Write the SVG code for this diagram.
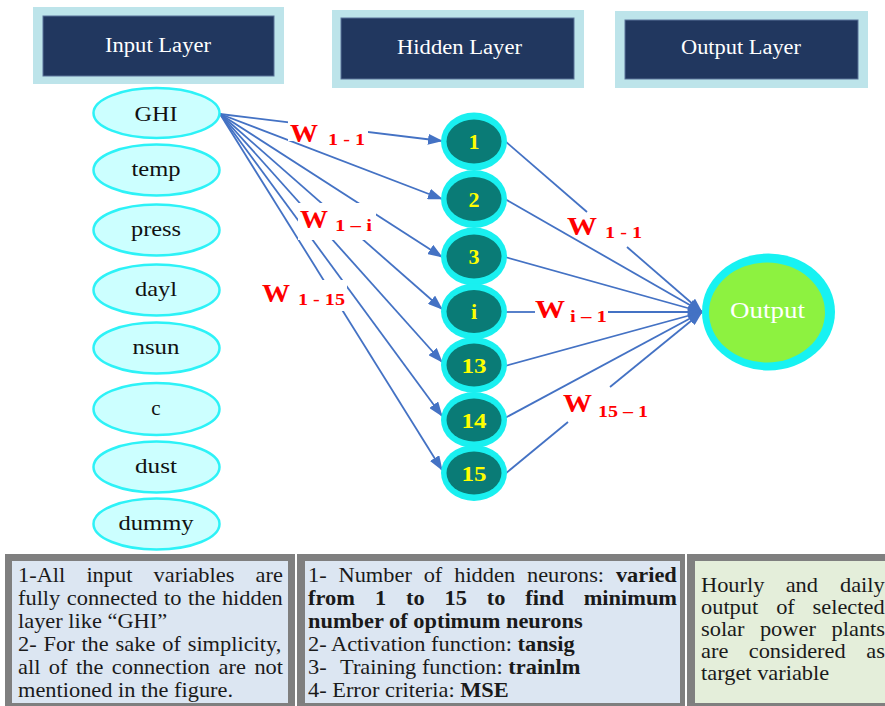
<svg xmlns="http://www.w3.org/2000/svg" width="885" height="706" viewBox="0 0 885 706">
<style>
.hdrO{fill:#BDE4EA}
.hdrI{fill:#21375F;stroke:#5A7399;stroke-width:1}
.ser{font-family:'Liberation Serif','Times New Roman',Tinos,'DejaVu Serif',serif}
.hdrT{font-size:20px;fill:#FFFFFF;text-anchor:middle}
.inN{fill:#CCFFFF;stroke:#2DF2F7;stroke-width:2.5}
.inT{font-size:21px;fill:#111111;text-anchor:middle}
.hidO{fill:#19F0F0}
.hidI{fill:#0A7B76}
.hidT{font-size:22px;font-weight:bold;fill:#FFFF00;text-anchor:middle}
.edge{stroke:#4472C4;stroke-width:1.8;fill:none}
.wW{font-size:25px;font-weight:bold;fill:#FF0000}
.wS{font-size:17px;font-weight:bold;fill:#FF0000}
.gap{fill:#FFFFFF}
.body{font-size:20px;fill:#1A1A1A}
.b{font-weight:bold}
</style>
<defs>
<marker id="arr" markerWidth="15" markerHeight="11" refX="14" refY="5.5" orient="auto" markerUnits="userSpaceOnUse">
<path d="M0,0 L15,5.5 L0,11 z" fill="#4472C4"/>
</marker>
</defs>

<!-- Layer headers -->
<g id="hdr-input">
<rect class="hdrO" x="33" y="7" width="251" height="77"/>
<rect class="hdrI" x="43" y="16" width="231" height="60"/>
<text class="ser hdrT" x="158" y="52" textLength="106" lengthAdjust="spacingAndGlyphs">Input Layer</text>
</g>
<g id="hdr-hidden">
<rect class="hdrO" x="332" y="10" width="252" height="78"/>
<rect class="hdrI" x="341" y="18" width="233" height="61"/>
<text class="ser hdrT" x="459.5" y="54" textLength="125" lengthAdjust="spacingAndGlyphs">Hidden Layer</text>
</g>
<g id="hdr-output">
<rect class="hdrO" x="615" y="11" width="253" height="77"/>
<rect class="hdrI" x="625" y="20" width="233" height="59"/>
<text class="ser hdrT" x="741" y="54" textLength="120" lengthAdjust="spacingAndGlyphs">Output Layer</text>
</g>

<!-- Connectors -->
<g id="connectors">
<g id="in-edges">
<line class="edge" x1="220" y1="114" x2="442" y2="141" marker-end="url(#arr)"/>
<line class="edge" x1="220" y1="114" x2="442" y2="199" marker-end="url(#arr)"/>
<line class="edge" x1="220" y1="114" x2="442" y2="257" marker-end="url(#arr)"/>
<line class="edge" x1="220" y1="114" x2="442" y2="309" marker-end="url(#arr)"/>
<line class="edge" x1="220" y1="114" x2="442" y2="362" marker-end="url(#arr)"/>
<line class="edge" x1="220" y1="114" x2="442" y2="416" marker-end="url(#arr)"/>
<line class="edge" x1="220" y1="114" x2="442" y2="470" marker-end="url(#arr)"/>
</g>
<g id="out-edges">
<line class="edge" x1="505" y1="141" x2="587" y2="212"/>
<line class="edge" x1="627" y1="247" x2="702" y2="312" marker-end="url(#arr)"/>
<line class="edge" x1="505" y1="199" x2="702" y2="312" marker-end="url(#arr)"/>
<line class="edge" x1="505" y1="257" x2="702" y2="312" marker-end="url(#arr)"/>
<line class="edge" x1="505" y1="312" x2="535" y2="312"/>
<line class="edge" x1="608" y1="312" x2="702" y2="312" marker-end="url(#arr)"/>
<line class="edge" x1="505" y1="366" x2="702" y2="312" marker-end="url(#arr)"/>
<line class="edge" x1="505" y1="418" x2="702" y2="312" marker-end="url(#arr)"/>
<line class="edge" x1="505" y1="474" x2="568" y2="422"/>
<line class="edge" x1="610" y1="387" x2="702" y2="312" marker-end="url(#arr)"/>
</g>
</g>

<!-- Weight labels -->
<g id="lbl-w1-1-in">
<rect class="gap" x="288" y="120" width="32" height="21"/>
<rect class="gap" x="320" y="121" width="48" height="25"/>
<text class="ser wW" x="290" y="142" textLength="28" lengthAdjust="spacingAndGlyphs">W</text>
<text class="ser wS" x="328" y="145" textLength="37" lengthAdjust="spacingAndGlyphs">1 - 1</text>
</g>
<g id="lbl-w1-i">
<rect class="gap" x="298" y="203" width="78" height="37"/>
<text class="ser wW" x="300" y="228" textLength="28" lengthAdjust="spacingAndGlyphs">W</text>
<text class="ser wS" x="335" y="231" textLength="37" lengthAdjust="spacingAndGlyphs">1 – i</text>
</g>
<g id="lbl-w1-15">
<rect class="gap" x="259" y="279" width="35" height="26"/>
<rect class="gap" x="294" y="280" width="53" height="31"/>
<text class="ser wW" x="262" y="302" textLength="28" lengthAdjust="spacingAndGlyphs">W</text>
<text class="ser wS" x="298" y="305" textLength="47" lengthAdjust="spacingAndGlyphs">1 - 15</text>
</g>
<g id="lbl-w1-1-out">
<text class="ser wW" x="567" y="235" textLength="30" lengthAdjust="spacingAndGlyphs">W</text>
<text class="ser wS" x="605" y="238" textLength="37" lengthAdjust="spacingAndGlyphs">1 - 1</text>
</g>
<g id="lbl-wi-1">
<text class="ser wW" x="535" y="318" textLength="30" lengthAdjust="spacingAndGlyphs">W</text>
<text class="ser wS" x="570" y="322" textLength="37" lengthAdjust="spacingAndGlyphs">i – 1</text>
</g>
<g id="lbl-w15-1">
<text class="ser wW" x="563" y="412" textLength="29" lengthAdjust="spacingAndGlyphs">W</text>
<text class="ser wS" x="598" y="417" textLength="50" lengthAdjust="spacingAndGlyphs">15 – 1</text>
</g>

<!-- Input nodes -->
<g id="in-ghi"><ellipse class="inN" cx="156.5" cy="113" rx="63" ry="25"/><text class="ser inT" x="156" y="121" textLength="43" lengthAdjust="spacingAndGlyphs">GHI</text></g>
<g id="in-temp"><ellipse class="inN" cx="156.5" cy="170" rx="63" ry="25.5"/><text class="ser inT" x="156" y="176" textLength="49" lengthAdjust="spacingAndGlyphs">temp</text></g>
<g id="in-press"><ellipse class="inN" cx="156.5" cy="230" rx="63" ry="25.5"/><text class="ser inT" x="156" y="236" textLength="50" lengthAdjust="spacingAndGlyphs">press</text></g>
<g id="in-dayl"><ellipse class="inN" cx="156.5" cy="290" rx="63" ry="25.5"/><text class="ser inT" x="156" y="296" textLength="42" lengthAdjust="spacingAndGlyphs">dayl</text></g>
<g id="in-nsun"><ellipse class="inN" cx="156.5" cy="348" rx="63" ry="25.5"/><text class="ser inT" x="156" y="354" textLength="47" lengthAdjust="spacingAndGlyphs">nsun</text></g>
<g id="in-c"><ellipse class="inN" cx="156.5" cy="409" rx="63" ry="26"/><text class="ser inT" x="156" y="415">c</text></g>
<g id="in-dust"><ellipse class="inN" cx="156.5" cy="467" rx="63" ry="25.5"/><text class="ser inT" x="156" y="473" textLength="42" lengthAdjust="spacingAndGlyphs">dust</text></g>
<g id="in-dummy"><ellipse class="inN" cx="156.5" cy="524" rx="63" ry="25.5"/><text class="ser inT" x="156" y="530" textLength="75" lengthAdjust="spacingAndGlyphs">dummy</text></g>

<!-- Hidden nodes -->
<g id="hid-1"><ellipse class="hidO" cx="474" cy="141.5" rx="33" ry="29"/><ellipse class="hidI" cx="474" cy="141.5" rx="27.5" ry="22"/><text class="ser hidT" x="474" y="149">1</text></g>
<g id="hid-2"><ellipse class="hidO" cx="474" cy="199" rx="33" ry="29"/><ellipse class="hidI" cx="474" cy="199" rx="27.5" ry="22"/><text class="ser hidT" x="474" y="206.5">2</text></g>
<g id="hid-3"><ellipse class="hidO" cx="474" cy="256.5" rx="33" ry="29"/><ellipse class="hidI" cx="474" cy="256.5" rx="27.5" ry="22"/><text class="ser hidT" x="474" y="264">3</text></g>
<g id="hid-i"><ellipse class="hidO" cx="474" cy="311.5" rx="33" ry="28"/><ellipse class="hidI" cx="474" cy="311.5" rx="27.5" ry="21.5"/><text class="ser hidT" x="474" y="319">i</text></g>
<g id="hid-13"><ellipse class="hidO" cx="474" cy="365" rx="33" ry="28"/><ellipse class="hidI" cx="474" cy="365" rx="27.5" ry="21.5"/><text class="ser hidT" x="474" y="372.5" textLength="25" lengthAdjust="spacingAndGlyphs">13</text></g>
<g id="hid-14"><ellipse class="hidO" cx="474" cy="420" rx="33" ry="28"/><ellipse class="hidI" cx="474" cy="420" rx="27.5" ry="21.5"/><text class="ser hidT" x="474" y="427.5" textLength="25" lengthAdjust="spacingAndGlyphs">14</text></g>
<g id="hid-15"><ellipse class="hidO" cx="474" cy="473" rx="33" ry="28"/><ellipse class="hidI" cx="474" cy="473" rx="27.5" ry="21.5"/><text class="ser hidT" x="474" y="480.5" textLength="25" lengthAdjust="spacingAndGlyphs">15</text></g>

<!-- Output node -->
<g id="out-node">
<ellipse cx="768.5" cy="312" rx="66.5" ry="58.5" fill="#17F2F2"/>
<ellipse cx="767" cy="312.5" rx="58" ry="50" fill="#8DF240"/>
<text class="ser" x="767.5" y="318" font-size="23" fill="#FFFFFF" text-anchor="middle" textLength="75" lengthAdjust="spacingAndGlyphs">Output</text>
</g>

<!-- Notes boxes -->
<g id="note-1">
<rect x="5" y="554" width="290" height="160" fill="#7F7F7F"/>
<rect x="12" y="561" width="276" height="142" fill="#DCE6F2"/>
</g>
<g id="note-2">
<rect x="297" y="554" width="388" height="160" fill="#7F7F7F"/>
<rect x="305" y="561" width="375" height="142" fill="#DCE6F2"/>
</g>
<g id="note-3">
<rect x="687" y="554" width="210" height="160" fill="#7F7F7F"/>
<rect x="695" y="561" width="200" height="142" fill="#E4EEDA"/>
</g>

<g id="note-text" class="ser" transform="scale(1.12 1)">
<text class="body" y="582"><tspan x="16.07">1-All</tspan><tspan x="77.14">input</tspan><tspan x="137.14">variables</tspan><tspan x="228.21">are</tspan></text>
<text class="body" y="605"><tspan x="16.07">fully</tspan><tspan x="59.64">connected</tspan><tspan x="146.52">to</tspan><tspan x="167.86">the</tspan><tspan x="198.13">hidden</tspan></text>
<text class="body" x="16.07" y="628">layer like “GHI”</text>
<text class="body" y="651"><tspan x="16.07">2-</tspan><tspan x="38.84">For</tspan><tspan x="72.68">the</tspan><tspan x="103.21">sake</tspan><tspan x="144.82">of</tspan><tspan x="167.59">simplicity,</tspan></text>
<text class="body" y="674"><tspan x="16.07">all</tspan><tspan x="43.57">of</tspan><tspan x="67.86">the</tspan><tspan x="99.82">connection</tspan><tspan x="195.18">are</tspan><tspan x="227.14">not</tspan></text>
<text class="body" x="16.07" y="697">mentioned in the figure.</text>

<text class="body" y="582"><tspan x="275">1-</tspan><tspan x="302.23">Number</tspan><tspan x="378.3">of</tspan><tspan x="405.54">hidden</tspan><tspan x="470.54">neurons:</tspan><tspan x="549.91" class="b">varied</tspan></text>
<text class="body b" y="605"><tspan x="275">from</tspan><tspan x="334.91">1</tspan><tspan x="362.59">to</tspan><tspan x="396.96">15</tspan><tspan x="434.64">to</tspan><tspan x="469.02">find</tspan><tspan x="521.16">minimum</tspan></text>
<text class="body b" x="275" y="628">number of optimum neurons</text>
<text class="body" x="275" y="651">2- Activation function: <tspan class="b">tansig</tspan></text>
<text class="body" y="674"><tspan x="275">3-</tspan><tspan x="303.57">Training function: </tspan><tspan class="b">trainlm</tspan></text>
<text class="body" x="275" y="697">4- Error criteria: <tspan class="b">MSE</tspan></text>

<text class="body" y="592"><tspan x="625.89">Hourly</tspan><tspan x="701.5">and</tspan><tspan x="750">daily</tspan></text>
<text class="body" y="614"><tspan x="625.89">output</tspan><tspan x="693">of</tspan><tspan x="725.5">selected</tspan></text>
<text class="body" y="636"><tspan x="625.89">solar</tspan><tspan x="678.5">power</tspan><tspan x="742.5">plants</tspan></text>
<text class="body" y="658"><tspan x="625.89">are</tspan><tspan x="668.5">considered</tspan><tspan x="773.5">as</tspan></text>
<text class="body" x="625.89" y="680">target variable</text>
</g>
</svg>
